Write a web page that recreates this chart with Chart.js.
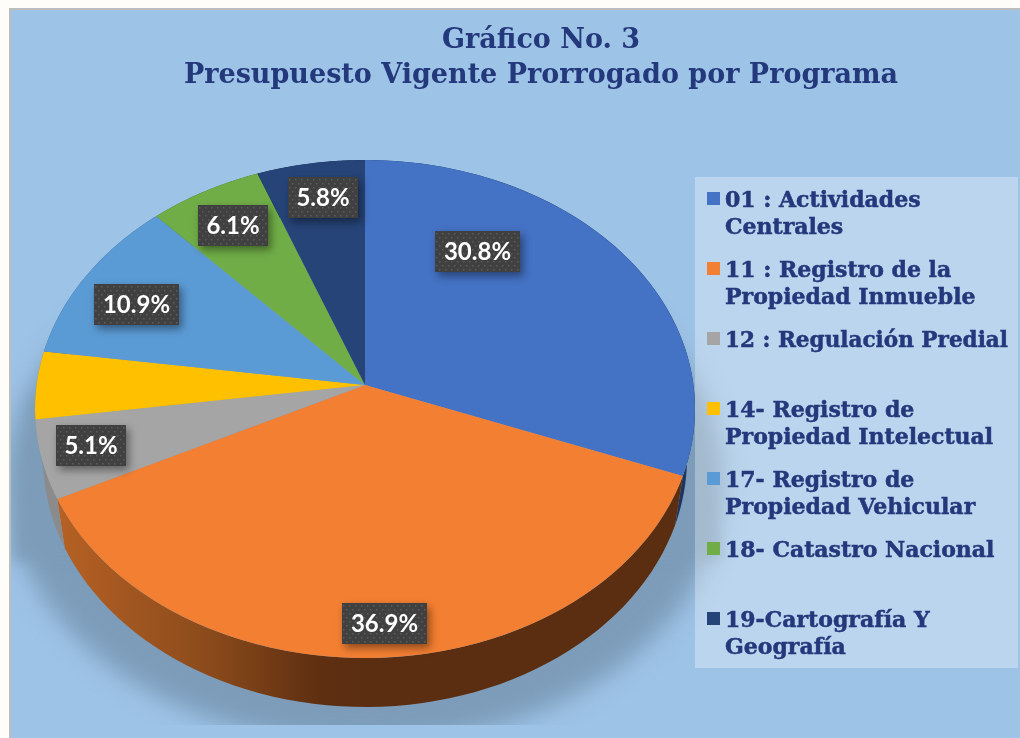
<!DOCTYPE html>
<html>
<head>
<meta charset="utf-8">
<style>html,body{margin:0;padding:0;background:#fefdf9;overflow:hidden}canvas{display:block}</style>
<script src="https://cdn.jsdelivr.net/npm/chart.js@4"></script>
</head>
<body>
<canvas id="c" width="1020" height="738"></canvas>
<script>
const titleLines = ['Gráfico No. 3', 'Presupuesto Vigente Prorrogado por Programa'];
const categories = ['01 : Actividades\nCentrales','11 : Registro de la\nPropiedad Inmueble','12 : Regulación Predial','14- Registro de\nPropiedad Intelectual','17- Registro de\nPropiedad Vehicular','18- Catastro Nacional','19-Cartografía Y\nGeografía'];
const values = [30.8, 36.9, 5.1, 4.4, 10.9, 6.1, 5.8];
const showLabel = [true, true, true, false, true, true, true];
const sliceColors = ['#4472c4','#f37f32','#a5a5a5','#ffc000','#5b9bd5','#70ad47','#264478'];
const sideColors = ['#1e3560',null,'#8b8b8b','#8b8b8b','#3c6a94','#4b7530','#182c50'];

const SERIF = '"DejaVu Serif"', INK = '#24387c';
const pie = {x:365, y:385, squash:0.75};
const top_ = {x:365, y:409, rx:330, ry:249};
const bot_ = {x:365, y:458, rx:322, ry:249};
const labelNudge = [[-52,-48.5],[10,88.7],[-83,16],null,[-51,-11],[-26,-32],[-6,-40]];

function rim(a){
  const dx=Math.cos(a), dy=pie.squash*Math.sin(a), k=(pie.y-top_.y)/top_.ry;
  const A=(dx/top_.rx)**2+(dy/top_.ry)**2, B=2*(dy/top_.ry)*k, C=k*k-1;
  const t=(-B+Math.sqrt(B*B-4*A*C))/(2*A);
  return [pie.x+t*dx, pie.y+t*dy];
}
function lower(p){ return [bot_.x+(p[0]-top_.x)*bot_.rx/top_.rx, p[1]+bot_.y-top_.y]; }

const scene = {
  id:'scene',
  beforeDraw(chart){
    const c=chart.ctx; c.save();
    c.fillStyle='#fefdf9'; c.fillRect(0,0,1020,738);
    c.fillStyle='#9dc3e6'; c.fillRect(10,9,1010,729);
    c.strokeStyle='#bdbdbd'; c.lineWidth=2;
    c.beginPath(); c.moveTo(10,738); c.lineTo(10,9); c.lineTo(1020,9); c.stroke();
    c.restore();
  },
  beforeDatasetsDraw(chart){
    const c=chart.ctx, arcs=chart.getDatasetMeta(0).data;
    // soft shadow below the pie
    c.save();
    c.beginPath(); c.rect(11,10,1009,715); c.clip();
    c.filter='blur(12px)'; c.fillStyle='#7c9cb9';
    c.beginPath(); c.ellipse(365,482,358,262,0,0,Math.PI*2); c.fill();
    c.filter='blur(6px)'; c.fillStyle='rgba(124,156,185,0.8)';
    c.beginPath(); c.moveTo(35,395); c.lineTo(695,395); c.lineTo(722,560); c.lineTo(12,560); c.closePath(); c.fill();
    c.restore();
    // legend panel
    c.save(); c.fillStyle='rgba(255,255,255,0.3)'; c.fillRect(695,177,323,491); c.restore();
    // pie wall
    c.save();
    arcs.forEach((arc,i)=>{
      const pts=[];
      const n=60;
      for(let k=0;k<=n;k++) pts.push(rim(arc.startAngle+(arc.endAngle-arc.startAngle)*k/n));
      c.beginPath();
      pts.forEach((p,k)=>k?c.lineTo(p[0],p[1]):c.moveTo(p[0],p[1]));
      pts.slice().reverse().forEach(p=>{const q=lower(p); c.lineTo(q[0],q[1]);});
      c.closePath();
      if(sideColors[i]) c.fillStyle=sideColors[i];
      else {
        const g=c.createLinearGradient(58,0,365,0);
        g.addColorStop(0,'#b66124'); g.addColorStop(0.5,'#8a4a1b'); g.addColorStop(0.85,'#5e2f11'); g.addColorStop(1,'#5c2e11');
        c.fillStyle=g;
      }
      c.fill();
    });
    c.restore();
    // top face: library arcs seen through a tilted, off-centre rim
    const a0=arcs[0];
    c.save();
    c.beginPath(); c.ellipse(top_.x,top_.y,top_.rx,top_.ry,0,0,Math.PI*2); c.clip();
    c.translate(pie.x,pie.y); c.scale(1,pie.squash); c.translate(-a0.x,-a0.y);
  },
  afterDatasetsDraw(chart){
    const c=chart.ctx, arcs=chart.getDatasetMeta(0).data;
    c.restore();
    // value labels
    arcs.forEach((arc,i)=>{
      if(!showLabel[i]) return;
      const mid=(arc.startAngle+arc.endAngle)/2;
      const cx=pie.x+200*Math.cos(mid)+labelNudge[i][0];
      const cy=pie.y+150*Math.sin(mid)+labelNudge[i][1];
      const txt=values[i].toFixed(1)+'%';
      const w=values[i]>=10?85:70, h=41, x=Math.round(cx-w/2), y=Math.round(cy-h/2);
      c.save();
      c.shadowColor='rgba(0,0,0,0.42)'; c.shadowBlur=8; c.shadowOffsetX=3; c.shadowOffsetY=4;
      c.fillStyle='#404040'; c.fillRect(x,y,w,h);
      c.restore();
      c.save();
      c.fillStyle='#5c5c5c';
      for(let yy=2,r=0;yy<h-1;yy+=4,r++)
        for(let xx=(r%2?4:1);xx<w-1;xx+=6) c.fillRect(x+xx,y+yy,1.5,1.5);
      c.fillStyle='#fff'; c.font='bold 24px Lato'; c.textAlign='center'; c.textBaseline='middle';
      c.fillText(txt,x+w/2,y+h/2+1);
      c.restore();
    });
    // legend
    c.save();
    categories.forEach((cat,i)=>{
      const y=192+70*i;
      c.fillStyle=sliceColors[i]; c.fillRect(707,y,13,13);
      c.fillStyle=INK; c.strokeStyle=INK; c.lineWidth=0.5; c.font='bold 22px '+SERIF; c.textAlign='left'; c.textBaseline='alphabetic';
      cat.split('\n').forEach((ln,k)=>{c.fillText(ln,725,y+15+27*k,283); c.strokeText(ln,725,y+15+27*k,283);});
    });
    c.restore();
  }
};

new Chart(document.getElementById('c'),{
  type:'pie',
  data:{labels:categories,datasets:[{data:values,backgroundColor:sliceColors,borderWidth:0,hoverOffset:0,clip:false}]},
  plugins:[scene],
  options:{
    responsive:false,animation:false,
    radius:420,
    layout:{padding:{left:62,right:0,top:0,bottom:0}},
    plugins:{
      legend:{display:false},tooltip:{enabled:false},
      title:{display:true,text:titleLines,color:INK,align:'center',
        font:{family:SERIF,size:27,weight:'bold',lineHeight:1.3},
        padding:{top:23,bottom:10}}
    }
  }
});
</script>
</body>
</html>
